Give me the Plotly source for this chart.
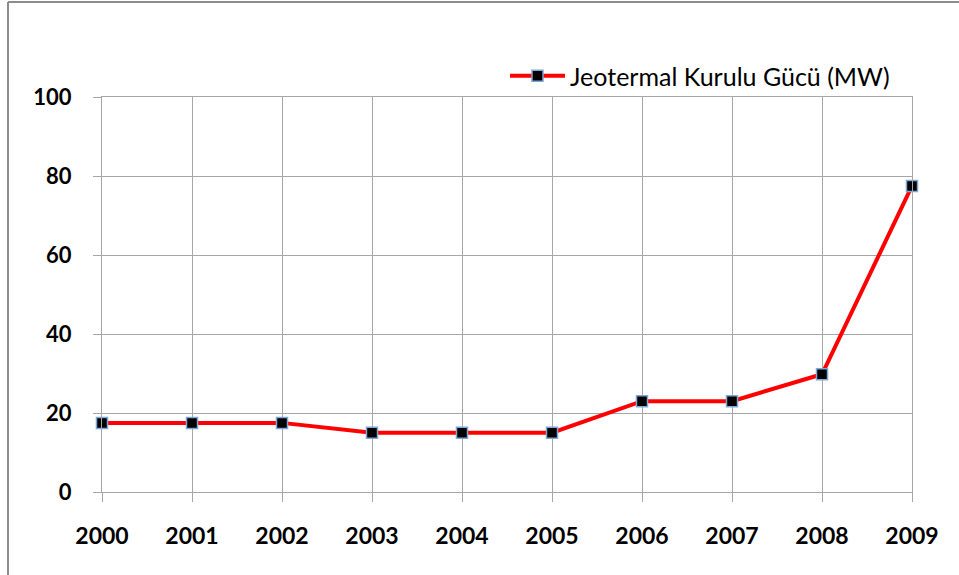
import plotly.graph_objects as go

years = [2000, 2001, 2002, 2003, 2004, 2005, 2006, 2007, 2008, 2009]
capacity_mw = [17.5, 17.5, 17.5, 15.0, 15.0, 15.0, 23.0, 23.0, 29.8, 77.5]
series_name = "Jeotermal Kurulu Gücü (MW)"
y_ticks = [0, 20, 40, 60, 80, 100]

L, R, T, B = 102, 47, 97, 83
W, H = 959, 575
pw, ph = W - L - R, H - T - B

def px_x(p):
    return (p - L) / pw

def px_y(p):
    return (H - B - p) / ph

fig = go.Figure()
fig.add_trace(go.Scatter(
    x=years, y=capacity_mw, name=series_name, mode="lines+markers",
    line=dict(color="#ff0000", width=4),
    marker=dict(symbol="square", size=11, color="#000000",
                line=dict(color="#7ea6d6", width=1.5)),
    cliponaxis=False,
))

grid = "#a6a6a6"
font_family = "Lato, 'Open Sans', sans-serif"
fig.update_layout(
    width=W, height=H,
    margin=dict(l=L, r=R, t=T, b=B),
    paper_bgcolor="white", plot_bgcolor="white",
    showlegend=True,
    legend=dict(x=px_x(505), y=px_y(76), xanchor="left", yanchor="middle",
                itemwidth=55,
                font=dict(family=font_family, size=25, color="#000"),
                bgcolor="rgba(0,0,0,0)"),
    xaxis=dict(range=[2000, 2009], tickmode="array", tickvals=years,
               ticktext=[str(y) for y in years],
               showgrid=True, gridcolor=grid, gridwidth=1,
               showline=True, linecolor=grid, linewidth=1, mirror=True,
               ticks="outside", ticklen=9, tickcolor=grid,
               zeroline=False,
               tickfont=dict(family=font_family, size=23, color="#000", weight="bold")),
    yaxis=dict(range=[0, 100], tickmode="array", tickvals=y_ticks,
               showgrid=True, gridcolor=grid, gridwidth=1,
               showline=True, linecolor=grid, linewidth=1, mirror=True,
               ticks="outside", ticklen=8, tickcolor=grid,
               zeroline=False,
               tickfont=dict(family=font_family, size=22, color="#000", weight="bold")),
    shapes=[
        dict(type="line", xref="paper", yref="paper",
             x0=px_x(8), x1=px_x(8), y0=px_y(2), y1=px_y(580),
             line=dict(color="#8c8c8c", width=2)),
        dict(type="line", xref="paper", yref="paper",
             x0=px_x(8), x1=px_x(970), y0=px_y(2), y1=px_y(2),
             line=dict(color="#8c8c8c", width=2)),
    ],
)
fig.update_xaxes(ticklabelstandoff=14)
fig.update_yaxes(ticklabelstandoff=17)
fig.write_html("out.html", config={"displayModeBar": False},
               post_script="document.body.style.margin='0';document.body.style.overflow='hidden';")
